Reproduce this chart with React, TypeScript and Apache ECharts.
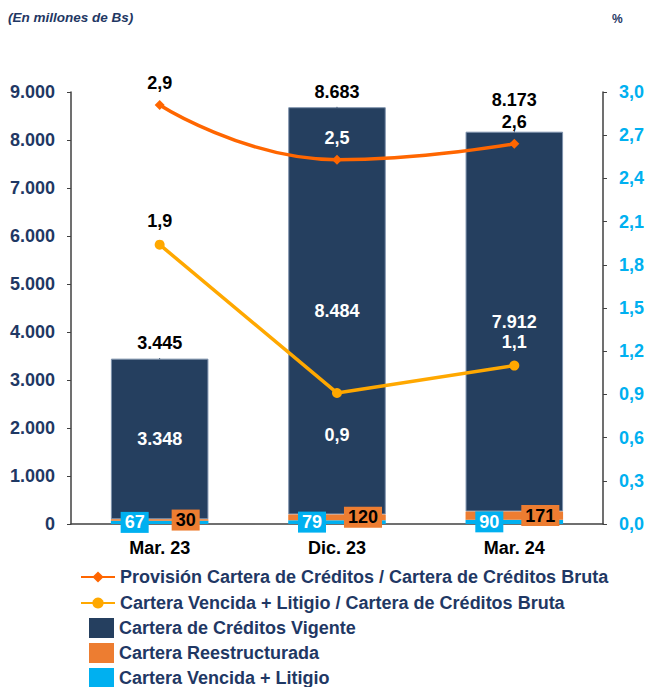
import React, { useEffect, useRef } from "react";
import * as echarts from "echarts";

const categories = ["Mar. 23", "Dic. 23", "Mar. 24"];
const vigente = [3348, 8484, 7912];
const reestructurada = [30, 120, 171];
const vencida = [67, 79, 90];
const provisionRatio = [2.91, 2.53, 2.64];
const vencidaRatio = [1.94, 0.91, 1.1];
const leftTicks = { min: 0, max: 9000, interval: 1000 };
const rightTicks = { min: 0, max: 3, interval: 0.3 };

const NAMES = {
  prov: "Provisión Cartera de Créditos / Cartera de Créditos Bruta",
  venRatio: "Cartera Vencida + Litigio / Cartera de Créditos Bruta",
  vig: "Cartera de Créditos Vigente",
  rees: "Cartera Reestructurada",
  ven: "Cartera Vencida + Litigio",
};

const FONT = "Liberation Sans, Arial, sans-serif";
const NAVY = "#1f3864";

function fmtThousands(v: number): string {
  const s = Math.round(v).toString();
  return s.replace(/\B(?=(\d{3})+(?!\d))/g, ".");
}
function fmtDec(v: number, d = 1): string {
  return v.toFixed(d).replace(".", ",");
}

export default function App() {
  const ref = useRef<HTMLDivElement>(null);
  useEffect(() => {
    if (!ref.current) return;
    const chart = echarts.init(ref.current, null, { renderer: "svg" });
    const totals = categories.map((_, i) => vigente[i] + reestructurada[i] + vencida[i]);

    const provLabelStyle = [
      { color: "#000", position: "top", distance: 8 },
      { color: "#fff", position: "top", distance: 8 },
      { color: "#000", position: "top", distance: 8 },
    ];
    const venLabelStyle = [
      { color: "#000", position: "top", distance: 10 },
      { color: "#fff", position: "bottom", distance: 28 },
      { color: "#fff", position: "top", distance: 10 },
    ];
    const totalOffsets = [[0, 0], [0, 0], [0, -16]];

    const labelFont = { fontFamily: FONT, fontWeight: "bold", fontSize: 18 };

    const legendCommon = {
      orient: "vertical",
      padding: 0,
      itemGap: 0,
      textStyle: { color: NAVY, fontFamily: FONT, fontWeight: "bold", fontSize: 18 },
    };

    const option: any = {
      animation: false,
      textStyle: { fontFamily: FONT },
      grid: { left: 71, right: 44, top: 92, bottom: 163, containLabel: false },
      graphic: [
        {
          type: "text",
          left: 8,
          top: 10,
          style: {
            text: "(En millones de Bs)",
            fill: NAVY,
            font: "italic bold 13.5px " + FONT,
          },
        },
        {
          type: "text",
          left: 612,
          top: 13,
          style: { text: "%", fill: NAVY, font: "bold 12px " + FONT },
        },
      ],
      legend: [
        { ...legendCommon, left: 80, top: 568, itemWidth: 34, itemHeight: 14, data: [NAMES.prov] },
        { ...legendCommon, left: 80, top: 594, itemWidth: 34, itemHeight: 14, data: [NAMES.venRatio] },
        { ...legendCommon, left: 89, top: 618, itemWidth: 25, itemHeight: 20, icon: "rect", itemStyle: { borderWidth: 0 }, data: [NAMES.vig] },
        { ...legendCommon, left: 89, top: 643, itemWidth: 25, itemHeight: 20, icon: "rect", itemStyle: { borderWidth: 0 }, data: [NAMES.rees] },
        { ...legendCommon, left: 89, top: 668, itemWidth: 25, itemHeight: 20, icon: "rect", itemStyle: { borderWidth: 0 }, data: [NAMES.ven] },
      ],
      xAxis: {
        type: "category",
        data: categories,
        axisLine: { show: true, lineStyle: { color: "#404040", width: 1.5 } },
        axisTick: { show: false },
        axisLabel: { color: "#000", ...labelFont, margin: 15 },
      },
      yAxis: [
        {
          type: "value",
          ...leftTicks,
          position: "left",
          axisLine: { show: true, lineStyle: { color: "#404040", width: 1.5 } },
          axisTick: { show: true, length: 4, lineStyle: { color: "#404040" } },
          splitLine: { show: false },
          axisLabel: { color: NAVY, ...labelFont, margin: 16, formatter: (v: number) => fmtThousands(v) },
        },
        {
          type: "value",
          ...rightTicks,
          position: "right",
          axisLine: { show: true, lineStyle: { color: "#404040", width: 1.5 } },
          axisTick: { show: true, length: 4, lineStyle: { color: "#404040" } },
          splitLine: { show: false },
          axisLabel: { color: "#00b0f0", ...labelFont, margin: 16, formatter: (v: number) => fmtDec(v) },
        },
      ],
      series: [
        {
          name: NAMES.ven,
          type: "bar",
          stack: "a",
          barWidth: "55%",
          itemStyle: { color: "#00b0f0" },
          data: vencida,
          label: {
            show: true,
            position: "inside",
            offset: [-25, 0],
            color: "#fff",
            ...labelFont,
            backgroundColor: "#00b0f0",
            padding: [2, 4, 1, 4],
            formatter: (p: any) => fmtThousands(p.value),
          },
          z: 3,
        },
        {
          name: NAMES.rees,
          type: "bar",
          stack: "a",
          itemStyle: { color: "#ed7d31" },
          data: reestructurada,
          label: {
            show: true,
            position: "inside",
            offset: [26, 0],
            color: "#000",
            ...labelFont,
            backgroundColor: "#ed7d31",
            padding: [2, 4, 1, 4],
            formatter: (p: any) => fmtThousands(p.value),
          },
          z: 3,
        },
        {
          name: NAMES.vig,
          type: "bar",
          stack: "a",
          itemStyle: { color: "#253f5f", borderColor: "#7f93ad", borderWidth: 1 },
          data: vigente,
          label: {
            show: true,
            position: "inside",
            color: "#fff",
            ...labelFont,
            formatter: (p: any) => fmtThousands(p.value),
          },
          z: 2,
        },
        {
          name: "Total",
          type: "scatter",
          yAxisIndex: 0,
          symbolSize: 1,
          itemStyle: { color: "#253f5f", opacity: 1 },
          silent: true,
          data: totals.map((v, i) => ({
            value: v,
            label: { offset: totalOffsets[i], fontWeight: "bold", color: "#000" },
          })),
          label: {
            show: true,
            position: "top",
            distance: 6,
            color: "#000",
            ...labelFont,
            formatter: (p: any) => fmtThousands(p.value),
          },
          z: 5,
        },
        {
          name: NAMES.prov,
          type: "line",
          yAxisIndex: 1,
          smooth: 0.5,
          symbol: "diamond",
          symbolSize: 10,
          itemStyle: { color: "#ff6600" },
          lineStyle: { color: "#ff6600", width: 3.5 },
          data: provisionRatio.map((v, i) => ({ value: v, label: provLabelStyle[i] })),
          label: { show: true, ...labelFont, formatter: (p: any) => fmtDec(p.value) },
          z: 6,
        },
        {
          name: NAMES.venRatio,
          type: "line",
          yAxisIndex: 1,
          smooth: false,
          symbol: "circle",
          symbolSize: 10,
          itemStyle: { color: "#ffa800" },
          lineStyle: { color: "#ffa800", width: 3.5 },
          data: vencidaRatio.map((v, i) => ({ value: v, label: venLabelStyle[i] })),
          label: { show: true, ...labelFont, formatter: (p: any) => fmtDec(p.value) },
          z: 6,
        },
      ],
    };
    chart.setOption(option);
    return () => chart.dispose();
  }, []);
  return (
    <div
      ref={ref}
      style={{ position: "absolute", left: 0, top: 0, width: 647, height: 687, background: "#fff" }}
    />
  );
}
